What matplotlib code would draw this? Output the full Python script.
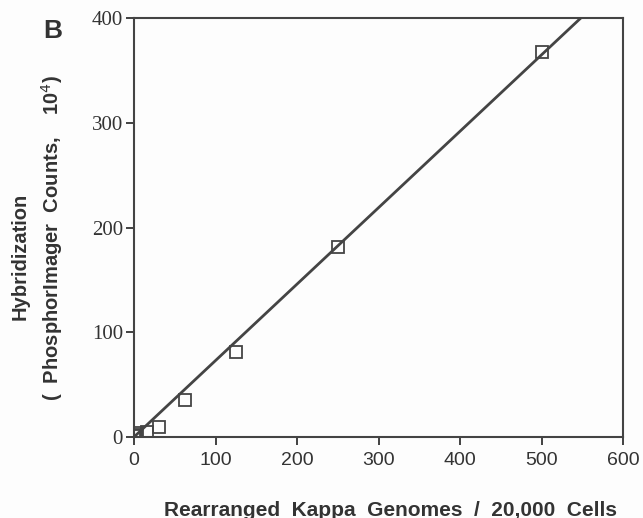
import numpy as np
import matplotlib
matplotlib.use("Agg")
import matplotlib.pyplot as plt

# Data
genomes = [0, 2, 4, 16, 31, 62, 125, 250, 500]
counts = [1, 2, 4, 5, 10, 35, 81, 181, 368]
fit_x = [0, 548]
fit_y = [0, 400]

xticks = [0, 100, 200, 300, 400, 500, 600]
yticks = [0, 100, 200, 300, 400]

ink = "#333333"

fig = plt.figure(figsize=(6.43, 5.18), dpi=100, facecolor="#fdfdfd")
ax = fig.add_axes([0.2084, 0.1564, 0.7606, 0.8086])
ax.set_facecolor("#fdfdfd")

ax.plot(fit_x, fit_y, color="#444444", lw=2.0, zorder=2)
ax.plot(genomes, counts, linestyle="none", marker="s", ms=8, mfc="none",
        mec="#444444", mew=1.3, zorder=3)

ax.set_xlim(0, 600)
ax.set_ylim(0, 400)
ax.set_xticks(xticks)
ax.set_yticks(yticks)
ax.set_xticklabels([str(t) for t in xticks], family="Liberation Sans",
                   fontsize=14, color=ink)
ax.set_yticklabels([str(t) for t in yticks], family="Liberation Serif",
                   fontsize=15, color=ink)
ax.tick_params(axis="both", direction="out", length=6, width=1.3, color=ink)
ax.tick_params(axis="x", pad=5)
ax.tick_params(axis="y", pad=2)
for s in ax.spines.values():
    s.set_color("#444444")
    s.set_linewidth(1.5)

# axis labels placed in figure pixels
W, H = 643, 518
fig.text(391 / W, 1 - 510 / H, "Rearranged  Kappa  Genomes  /  20,000  Cells",
         family="Liberation Sans", fontweight="bold", fontsize=15,
         color=ink, ha="center", va="center")
fig.text(20 / W, 1 - 256 / H, "Hybridization", rotation=90,
         family="Liberation Sans", fontweight="bold", fontsize=14.5,
         color=ink, ha="center", va="center")
fig.text(52 / W, 1 - 238 / H, "(  PhosphorImager  Counts,    10$^4$)", rotation=90,
         family="Liberation Sans", fontweight="bold", fontsize=14.5,
         color=ink, ha="center", va="center")

fig.text(53 / W, 1 - 31 / H, "B", family="Liberation Sans", fontweight="bold",
         fontsize=19, color=ink, ha="center", va="center")

fig.savefig("out.png", dpi=100, facecolor=fig.get_facecolor())
